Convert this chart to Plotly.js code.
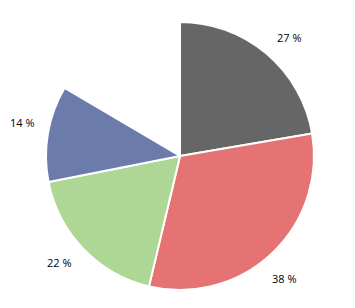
<!DOCTYPE html>
<html>
<head>
<meta charset="utf-8">
<script src="https://cdn.plot.ly/plotly-3.0.1.min.js"></script>
<style>html,body{margin:0;padding:0;background:#fff;}#chart{width:355px;height:308px;}</style>
</head>
<body>
<div id="chart"></div>
<script>
var categories = ["A", "B", "C", "D"];
var percents = [27, 38, 22, 14];
var gapValue = 20;
var colors = ["#666666", "#E57373", "#AED695", "#6B7BAA"];

var values = percents.concat([gapValue]);
var labels = categories.concat(["gap"]);
var sliceColors = colors.concat(["rgba(0,0,0,0)"]);
var lineWidths = percents.map(function () { return 2; }).concat([0]);

var W = 355, H = 308;
var cx = 180, cy = 152, R = 134, labelR = 161, labelShift = 2.5 * Math.PI / 180;

var trace = {
  type: "pie",
  labels: labels,
  values: values,
  textinfo: "none",
  sort: false,
  direction: "clockwise",
  rotation: 0,
  hoverinfo: "none",
  marker: { colors: sliceColors, line: { color: "#ffffff", width: lineWidths } },
  domain: { x: [(cx - R) / W, (cx + R) / W], y: [(cy - R) / H, (cy + R) / H] },
  automargin: false
};

var total = values.reduce(function (a, b) { return a + b; }, 0);
var annotations = [];
var acc = 0;
percents.forEach(function (p) {
  var mid = (acc + p / 2) / total * 2 * Math.PI + labelShift;
  acc += p;
  annotations.push({
    x: (cx + labelR * Math.sin(mid)) / W,
    y: (cy + labelR * Math.cos(mid)) / H,
    xref: "paper", yref: "paper",
    xanchor: "center", yanchor: "middle",
    text: p + " %",
    showarrow: false,
    font: { family: "Open Sans, sans-serif", size: 11, color: "#000000" }
  });
});

var layout = {
  width: W,
  height: H,
  margin: { l: 0, r: 0, t: 0, b: 0 },
  showlegend: false,
  paper_bgcolor: "#ffffff",
  plot_bgcolor: "#ffffff",
  annotations: annotations
};

Plotly.newPlot("chart", [trace], layout, { staticPlot: true, displayModeBar: false });
</script>
</body>
</html>
